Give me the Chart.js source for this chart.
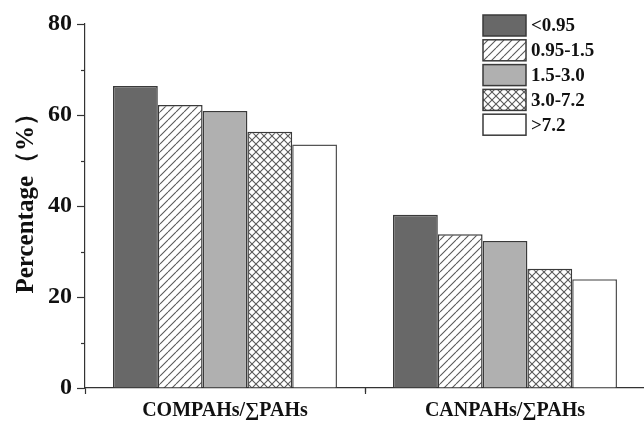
<!DOCTYPE html>
<html>
<head>
<meta charset="utf-8">
<script src="https://cdn.jsdelivr.net/npm/chart.js@4.4.1/dist/chart.umd.min.js"></script>
<style>
  html, body { margin: 0; padding: 0; background: #fff; overflow: hidden; }
  #wrap { width: 646px; height: 423px; }
</style>
</head>
<body>
<div id="wrap"><canvas id="c" width="646" height="423"></canvas></div>
<script>
// Categories and the ratio classes used for the bars
const categories = ['COMPAHs/\u2211PAHs', 'CANPAHs/\u2211PAHs'];
const seriesLabels = ['<0.95', '0.95-1.5', '1.5-3.0', '3.0-7.2', '>7.2'];

// Percentage of each class (one value per category)
const lt095   = [66.4, 38.1];
const r095_15 = [62.2, 33.8];
const r15_30  = [60.9, 32.3];
const r30_72  = [56.3, 26.2];
const gt72    = [53.5, 23.9];

const yTicks = [0, 20, 40, 60, 80];

const FONT = "'Liberation Serif', 'Times New Roman', serif";
const EDGE = '#3a3a3a';

function makePattern(kind) {
  const s = 8;
  const t = document.createElement('canvas');
  t.width = s; t.height = s;
  const g = t.getContext('2d');
  g.fillStyle = '#fff';
  g.fillRect(0, 0, s, s);
  g.strokeStyle = '#5a5a5a';
  g.lineWidth = 1.1;
  const diag = (flip) => {
    g.beginPath();
    for (let k = -1; k <= 1; k++) {
      if (!flip) { g.moveTo(k * s, s); g.lineTo(k * s + s, 0); }
      else { g.moveTo(k * s, 0); g.lineTo(k * s + s, s); }
    }
    g.stroke();
  };
  diag(false);
  if (kind === 'cross') diag(true);
  return g.createPattern(t, 'repeat');
}

const fills = ['#686868', makePattern('hatch'), '#b0b0b0', makePattern('cross'), '#ffffff'];
const values = [lt095, r095_15, r15_30, r30_72, gt72];

const datasets = values.map((v, i) => ({
  label: seriesLabels[i],
  data: v,
  backgroundColor: fills[i],
  borderColor: i === 4 ? '#555' : EDGE,
  borderWidth: 1.5,
  borderSkipped: 'bottom',
  barPercentage: 1.0,
  categoryPercentage: 0.8
}));

// Minor ticks and the in-plot legend
const extras = {
  id: 'extras',
  afterDraw(chart) {
    const ctx = chart.ctx;
    const y = chart.scales.y, x = chart.scales.x;
    const a = chart.chartArea;
    ctx.save();
    ctx.strokeStyle = '#333';
    ctx.lineWidth = 1.2;
    // minor y ticks
    for (let v = 10; v < 80; v += 20) {
      const py = Math.round(y.getPixelForValue(v)) + 0.5;
      ctx.beginPath(); ctx.moveTo(a.left - 4, py); ctx.lineTo(a.left, py); ctx.stroke();
    }
    // minor x tick between the categories
    const mx = Math.round((x.getPixelForValue(0) + x.getPixelForValue(1)) / 2) + 0.5;
    ctx.beginPath(); ctx.moveTo(mx, a.bottom); ctx.lineTo(mx, a.bottom + 4); ctx.stroke();

    // legend
    const bx = a.right - 162, bw = 43, bh = 21, step = 24.8;
    ctx.font = 'bold 19px ' + FONT;
    ctx.textBaseline = 'middle';
    ctx.textAlign = 'left';
    chart.data.datasets.forEach((ds, i) => {
      const by = 15 + i * step;
      ctx.fillStyle = ds.backgroundColor;
      ctx.fillRect(bx, by, bw, bh);
      ctx.strokeStyle = EDGE;
      ctx.lineWidth = 1.5;
      ctx.strokeRect(bx, by, bw, bh);
      ctx.fillStyle = '#111';
      ctx.fillText(ds.label, bx + bw + 5, by + bh / 2 + 1);
    });
    ctx.restore();
  }
};

new Chart(document.getElementById('c'), {
  type: 'bar',
  data: { labels: categories, datasets },
  plugins: [extras],
  options: {
    responsive: false,
    animation: false,
    layout: { padding: { top: 24, right: 1, left: 0, bottom: 0 } },
    plugins: { legend: { display: false }, tooltip: { enabled: false } },
    scales: {
      x: {
        grid: { display: true, drawOnChartArea: false, tickLength: 6, color: '#333', tickColor: '#333', tickWidth: 1.2 },
        border: { display: true, color: '#333', width: 1.2 },
        ticks: { color: '#111', font: { family: FONT, size: 20, weight: 'bold' }, padding: 5, maxRotation: 0 },
        afterFit(s) { s.height = 35; }
      },
      y: {
        min: 0, max: 80,
        afterBuildTicks(s) { s.ticks = yTicks.map(v => ({ value: v })); },
        grid: { display: true, drawOnChartArea: false, tickLength: 8, tickColor: '#333', tickWidth: 1.2 },
        border: { display: true, color: '#333', width: 1.2 },
        ticks: { color: '#111', font: { family: FONT, size: 24, weight: 'bold' }, padding: 5 },
        title: {
          display: true,
          text: '\u2002\u2009Percentage\uFF08%\uFF09',
          color: '#111',
          font: { family: FONT, size: 25, weight: 'bold' },
          padding: { top: 12, bottom: 4 }
        },
        afterFit(s) { s.width = 85; }
      }
    }
  }
});
</script>
</body>
</html>
